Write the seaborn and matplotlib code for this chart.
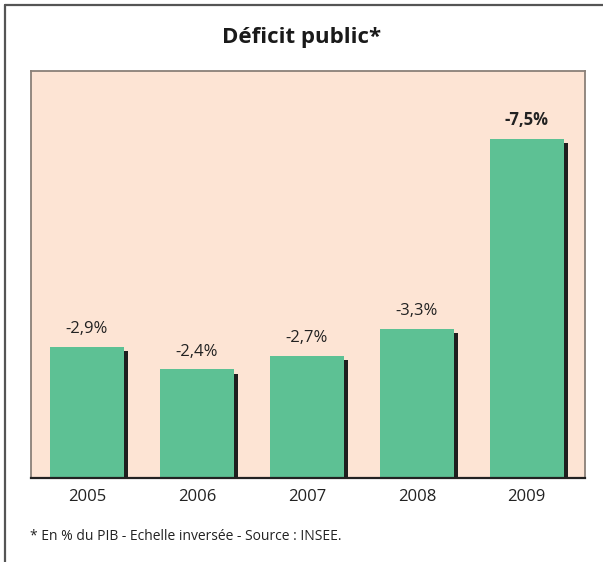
import matplotlib
matplotlib.use("Agg")
import matplotlib.pyplot as plt
import matplotlib.patheffects as pe
from matplotlib.lines import Line2D
import seaborn as sns
import pandas as pd

# data (deficit in % of GDP, inverted scale)
years = ["2005", "2006", "2007", "2008", "2009"]
deficit = [2.9, 2.4, 2.7, 3.3, 7.5]
labels = ["-2,9%", "-2,4%", "-2,7%", "-3,3%", "-7,5%"]

df = pd.DataFrame({"Year": years, "Deficit": deficit})

sns.set_style("white")
plt.rcParams["font.family"] = ["Open Sans", "DejaVu Sans"]

fig = plt.figure(figsize=(6.03, 5.62), dpi=100)
ax = fig.add_axes([31 / 603, 84 / 562, 554 / 603, 407 / 562])
ax.set_facecolor("#fde4d4")

sns.barplot(data=df, x="Year", y="Deficit", color="#5dc194", saturation=1,
            width=0.67, linewidth=0, ax=ax, errorbar=None)
for bar in ax.patches:
    bar.set_path_effects([pe.SimplePatchShadow(offset=(3.0, -3.0),
                                               shadow_rgbFace="#1e1e1e", alpha=1),
                          pe.Normal()])

for i, (v, lab) in enumerate(zip(deficit, labels)):
    ax.text(i, v + 0.22, lab, ha="center", va="bottom", fontsize=12,
            color="#222222", fontweight="bold" if i == 4 else "normal")

ax.set_ylim(0, 9)
ax.set_xlim(-0.51, 4.53)
ax.set_yticks([])
ax.set_xlabel("")
ax.set_ylabel("")
ax.tick_params(axis="x", length=0, pad=8, labelsize=12, labelcolor="#222222")
for side in ["left", "right", "top"]:
    ax.spines[side].set_color("#8a8078")
    ax.spines[side].set_linewidth(1.3)
ax.spines["bottom"].set_color("#222222")
ax.spines["bottom"].set_linewidth(1.6)

fig.text(0.5, 1 - 38 / 562, "Déficit public*", ha="center", va="center",
         fontsize=16, fontweight="bold", color="#1a1a1a")
fig.text(30 / 603, 1 - 537 / 562, "* En % du PIB - Echelle inversée - Source : INSEE.",
         ha="left", va="center", fontsize=10, color="#222222")

# frame: top and left edges only
fig.add_artist(Line2D([4.5 / 603, 1], [1 - 4.5 / 562, 1 - 4.5 / 562],
                      transform=fig.transFigure, color="#555555", linewidth=1.6))
fig.add_artist(Line2D([4.5 / 603, 4.5 / 603], [0, 1 - 4.5 / 562],
                      transform=fig.transFigure, color="#555555", linewidth=1.6))

fig.savefig("out.png", dpi=100)
